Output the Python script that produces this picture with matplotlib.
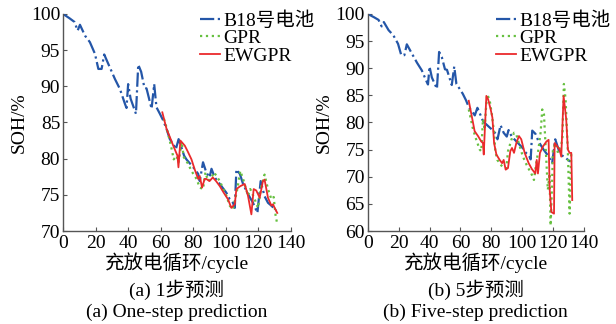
import matplotlib.pyplot as plt

plt.rcParams['font.family'] = ['Liberation Serif', 'Noto Sans CJK SC']
plt.rcParams['font.size'] = 14

# B18 battery measured SOH (cycle, %)
b18_cycle = [0, 4, 7, 9, 10.4, 13.5, 16.5, 19.6, 21.7, 23.7, 25.3, 27.8, 31.9, 35, 38, 39, 40, 41.5,
             44.8, 46.2, 48, 50, 51.3, 54.4, 56, 57.4, 59.5, 61.5, 63.6, 65.6, 67.7, 69.3, 71, 72.8,
             74.4, 75.8, 80, 83, 84, 86, 88, 90, 91.2, 93.2, 96.3, 100.3, 102.4, 104.4, 105.5, 106.5,
             108.6, 110.6, 113.6, 116.7, 119.4, 121.4, 123.8, 125.9, 128, 131]
b18_soh = [100, 99.4, 98.9, 97.7, 98.5, 97, 96.1, 94.5, 92.4, 92.4, 94.4, 93.1, 91, 89.6, 87.6, 87,
           90.3, 88.3, 86.2, 93, 92, 89.8, 89.7, 86.9, 90.3, 87.1, 86.2, 85.3, 84.1, 82.7, 82.0, 81.3,
           82.7, 81.5, 80.4, 79.9, 78.8, 77.9, 76.9, 79.5, 78.1, 77.4, 78.6, 77.4, 76.5, 75.3, 74.4,
           73.9, 73.2, 78.5, 77.9, 76.5, 75.1, 73.9, 72.5, 76.9, 74.8, 73.9, 73.5, 72.8]

# (a) one-step prediction
gpr1_cycle = [62, 63.6, 66.3, 68, 69.7, 71, 72.8, 74.2, 76.8, 78.9, 82, 84, 86, 87.5, 89.1, 91.2,
              92.8, 96.3, 100.3, 102.4, 104.4, 106.9, 108.9, 110.6, 113.6, 115, 117.7, 119.8, 121.8,
              123.8, 125.9, 128, 129.4, 130.6, 131.4]
gpr1_soh = [85.5, 84.3, 81.8, 79.9, 80.4, 79.5, 82.3, 80.2, 79.3, 78.3, 77.2, 76, 75.8, 78.1, 76.9,
            77.4, 78.1, 76.9, 74.9, 73.5, 73.0, 75.6, 78.3, 77.2, 74.9, 75.8, 74.4, 73.2, 76.2, 77.8,
            75.8, 74.4, 74.7, 72.1, 71.2]
ew1_cycle = [61, 63.6, 65.6, 67.7, 70.3, 70.9, 72.1, 74.8, 76.8, 78.9, 80.9, 83, 84, 85.4, 87, 88,
             90, 92, 94, 96.3, 98.7, 101.3, 103.4, 105.5, 106.5, 108.9, 111.6, 113.6, 115.7, 117.1,
             118.7, 120.8, 122.8, 123.8, 125.9, 128, 129, 130, 131.6]
ew1_soh = [86.4, 84.1, 83, 81.8, 80.4, 78.8, 82.5, 81.8, 80.9, 79.9, 78.5, 77.2, 77.6, 76, 77.2, 77.2,
           76.9, 77.4, 76.9, 76.2, 75.3, 74.4, 73.2, 73.7, 75.8, 76.2, 76.5, 74.9, 72.3, 75.8, 75.6,
           74.6, 76.9, 77.1, 74.6, 73.5, 73.7, 73.2, 72.5]

# (b) five-step prediction
gpr5_cycle = [65.4, 68.2, 70.3, 72.5, 73.5, 74.6, 75.7, 76.4, 77.4, 79, 80.5, 81.8, 82.6, 83.9, 85.4,
              87, 88.2, 89.7, 90.8, 93, 94.7, 96.2, 98.4, 100.5, 103.3, 105.9, 107.6, 109.1, 110.2,
              111.9, 113, 114.1, 115.6, 116.6, 117.7, 118.4, 119.3, 119.9, 121.4, 123.2, 124.9, 126,
              127, 128.1, 129.6, 130.7, 131.8]
gpr5_soh = [82.4, 78.7, 76.8, 75, 74.7, 80.6, 78.7, 82.1, 85.2, 84, 81.2, 78.1, 74.7, 73.1, 72.5,
            71.9, 71.6, 71.6, 74.7, 76.8, 78.1, 77.8, 75.6, 73.7, 71.9, 70.6, 69.4, 72.5, 74.4, 78.1,
            82.4, 81.5, 73.1, 67.6, 70.6, 61, 68.1, 75, 76.2, 74.4, 75.6, 76.8, 87.1, 84.3, 74.4,
            63.2, 74.7]
ew5_cycle = [65.4, 66.7, 68.2, 69.2, 71.4, 73.5, 74.6, 75.1, 76.8, 77.9, 79.6, 80.7, 81.8, 83.3, 85.4,
             87, 88, 89.3, 90.8, 92.3, 93.4, 94.7, 96.2, 97.9, 99.4, 101.6, 104.2, 106.3, 108.5,
             109.4, 110.2, 111.5, 113.5, 115.7, 117.1, 117.8, 118.9, 120.6, 121, 122.7, 124.2, 125.3,
             126.8, 128.5, 129.6, 130.7, 131.8, 132.4]
ew5_soh = [84, 82.1, 79.9, 78.4, 77.5, 76.5, 76.2, 74.1, 84.9, 84.3, 82.4, 80.9, 76.2, 74.1, 73.1,
           72.5, 73.1, 71.3, 71.6, 74.7, 75.3, 74.4, 76.2, 77.5, 76.9, 74.4, 72.5, 71.4, 70.6, 73.1,
           70.6, 74.4, 75.6, 76.5, 76.8, 67.6, 63.5, 63.2, 76.2, 75.6, 75, 73.7, 84.9, 80.6, 75, 74.4,
           74.4, 65.7]

panels = [
    dict(gpr=(gpr1_cycle, gpr1_soh), ew=(ew1_cycle, ew1_soh), ylim=(70, 100),
         yticks=[70, 75, 80, 85, 90, 95, 100], rect=[0.1023, 0.287, 0.370, 0.670],
         leg=(200 / 616, 1 - 11 / 324),
         cn='(a) 1步预测', en='(a) One-step prediction'),
    dict(gpr=(gpr5_cycle, gpr5_soh), ew=(ew5_cycle, ew5_soh), ylim=(60, 100),
         yticks=[60, 65, 70, 75, 80, 85, 90, 95, 100], rect=[0.597, 0.287, 0.351, 0.670],
         leg=(496 / 616, 1 - 11 / 324),
         cn='(b) 5步预测', en='(b) Five-step prediction'),
]

fig = plt.figure(figsize=(6.16, 3.24), dpi=100)

for p in panels:
    ax = fig.add_axes(p['rect'])
    ax.plot(b18_cycle, b18_soh, color='#2456a8', linestyle='-.', linewidth=1.6, label='B18号电池')
    ax.plot(*p['gpr'], color='#66c040', linestyle=':', linewidth=1.6, label='GPR')
    ax.plot(*p['ew'], color='#ea2a2c', linestyle='-', linewidth=1.3, label='EWGPR')
    ax.set_xlim(0, 140)
    ax.set_ylim(*p['ylim'])
    ax.set_xticks(range(0, 141, 20))
    ax.set_yticks(p['yticks'])
    ax.spines['top'].set_visible(False)
    ax.spines['right'].set_visible(False)
    for s in ('left', 'bottom'):
        ax.spines[s].set_color('#555555')
        ax.spines[s].set_linewidth(1.0)
    ax.tick_params(direction='in', length=3, width=0.8, labelsize=14, color='#555555')
    ax.tick_params(axis='x', pad=3)
    ax.tick_params(axis='y', pad=2)
    ax.set_ylabel('SOH/%', fontsize=14, labelpad=2)
    ax.set_xlabel('充放电循环/cycle', fontsize=14, labelpad=0)
    ax.legend(loc='upper left', bbox_to_anchor=p['leg'], bbox_transform=fig.transFigure,
              frameon=False, fontsize=14, handlelength=1.05, handletextpad=0.15,
              labelspacing=0.0, borderpad=0.0, borderaxespad=0.0)
    cx = p['rect'][0] + p['rect'][2] / 2
    fig.text(cx, 0.105, p['cn'], ha='center', va='center', fontsize=14)
    fig.text(cx, 0.037, p['en'], ha='center', va='center', fontsize=14)

fig.savefig('out.png', dpi=100)
